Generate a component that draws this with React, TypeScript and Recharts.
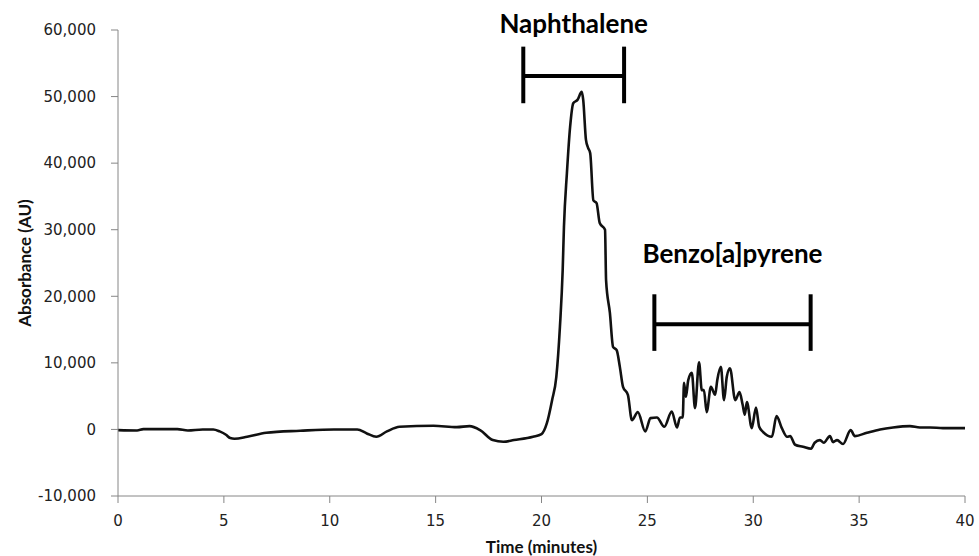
import React from 'react'
import { LineChart, Line, XAxis, YAxis, ReferenceLine } from 'recharts'

const times = [
  0, 0.9, 1.2, 2.0, 2.8, 3.3, 4.0, 4.5, 4.8, 5.1, 5.3, 5.5, 6.1, 7.0, 8.6, 10.2, 11.3, 11.75, 12.2, 12.7,
  13.3, 14.9, 16.0, 16.6, 17.1, 17.7, 18.2, 18.7, 19.6, 20.0, 20.25, 20.5, 20.7, 20.87, 21.0, 21.06, 21.2,
  21.35, 21.5, 21.7, 21.9, 21.97, 22.1, 22.2, 22.3, 22.45, 22.6, 22.75, 23.0, 23.05, 23.23, 23.38, 23.55,
  23.7, 23.85, 24.08, 24.27, 24.55, 24.9, 25.15, 25.45, 25.8, 26.15, 26.4, 26.54, 26.67, 26.73, 26.82,
  26.93, 27.1, 27.25, 27.44, 27.57, 27.67, 27.8, 28.0, 28.2, 28.3, 28.47, 28.62, 28.75, 28.9, 29.15, 29.35,
  29.5, 29.6, 29.7, 29.93, 30.13, 30.28, 30.47, 30.88, 31.1, 31.35, 31.6, 31.74, 31.98, 32.35, 32.73, 32.9,
  33.15, 33.33, 33.62, 33.77, 33.96, 34.24, 34.6, 34.8, 35.37, 35.99, 36.6, 37.4, 37.87, 38.35, 38.96, 40
]

const absorbance = [
  -100, -150, 50, 50, 50, -150, 0, 0, -300, -800, -1300, -1400, -1100, -500, -200, 0, 0, -600, -1100, -300,
  400, 550, 350, 500, -100, -1600, -1850, -1600, -1100, -700, 900, 4400, 7900, 15400, 23900, 30400, 38500,
  45400, 49000, 49500, 50700, 49500, 43500, 42300, 41500, 34400, 34000, 31000, 30000, 22400, 17500, 12400, 11900,
  9400, 6400, 5200, 1400, 2600, -300, 1700, 1800, 400, 2700, 300, 1800, 1800, 7000, 4900,
  7400, 8500, 3200, 10100, 5900, 5900, 2600, 6400, 5200, 7400, 9400, 4400, 7900, 9200, 4400, 5600,
  3700, 2200, 4100, 200, 3300, 400, -400, -1100, 2000, 200, -1100, -1000, -2300, -2600, -2900, -2000,
  -1600, -2000, -1000, -1900, -1600, -2200, -100, -1000, -500, 0, 300, 500, 300, 300, 200, 200
]

const xTicks = [0, 5, 10, 15, 20, 25, 30, 35, 40]
const yTicks = [-10000, 0, 10000, 20000, 30000, 40000, 50000, 60000]

const peakNames = ['Naphthalene', 'Benzo[a]pyrene']
const bracketStart = [19.14, 25.33]
const bracketEnd = [23.9, 32.71]
const bracketLevel = [53100, 15800]
const bracketTop = [57500, 20300]
const bracketBottom = [49000, 11800]

const data = times.map((t, i) => ({ t, v: absorbance[i] }))

const labelOffsets = [43, 61]
const tickStyle = { fontFamily: 'DejaVu Sans', fontSize: 15, fill: '#222' }
const titleFont = { fontFamily: 'Lato', fontWeight: 700, fontSize: 17, fill: '#111' }

export default function App() {
  return (
    <div style={{ position: 'absolute', left: 0, top: 0, width: 979, height: 556, background: '#fff' }}>
      <LineChart width={979} height={556} data={data} margin={{ top: 30, right: 14, bottom: 0, left: 0 }}>
        <XAxis
          dataKey="t"
          type="number"
          domain={[0, 40]}
          ticks={xTicks}
          height={60}
          stroke="#868686"
          tickSize={7}
          tickMargin={12}
          tick={tickStyle}
          label={{ value: 'Time (minutes)', position: 'insideBottom', offset: 3, style: titleFont }}
        />
        <YAxis
          type="number"
          domain={[-10000, 60000]}
          ticks={yTicks}
          width={118}
          stroke="#868686"
          tickSize={7}
          tickMargin={15}
          tick={tickStyle}
          tickFormatter={(v: number) => v.toLocaleString('en-US')}
          label={{
            value: 'Absorbance (AU)',
            angle: -90,
            position: 'insideLeft',
            offset: 25,
            style: { ...titleFont, textAnchor: 'middle' }
          }}
        />
        <Line
          type="monotone"
          dataKey="v"
          stroke="#111"
          strokeWidth={2.6}
          dot={false}
          isAnimationActive={false}
        />
        {peakNames.map((name, i) => (
          <React.Fragment key={name}>
            <ReferenceLine
              segment={[{ x: bracketStart[i], y: bracketLevel[i] }, { x: bracketEnd[i], y: bracketLevel[i] }]}
              stroke="#000"
              strokeWidth={4}
              label={{
                value: name,
                position: 'top',
                offset: labelOffsets[i],
                style: { fontFamily: 'Lato', fontWeight: 700, fontSize: 26, fill: '#000' }
              }}
            />
            <ReferenceLine
              segment={[{ x: bracketStart[i], y: bracketBottom[i] }, { x: bracketStart[i], y: bracketTop[i] }]}
              stroke="#000"
              strokeWidth={4}
            />
            <ReferenceLine
              segment={[{ x: bracketEnd[i], y: bracketBottom[i] }, { x: bracketEnd[i], y: bracketTop[i] }]}
              stroke="#000"
              strokeWidth={4}
            />
          </React.Fragment>
        ))}
      </LineChart>
    </div>
  )
}
